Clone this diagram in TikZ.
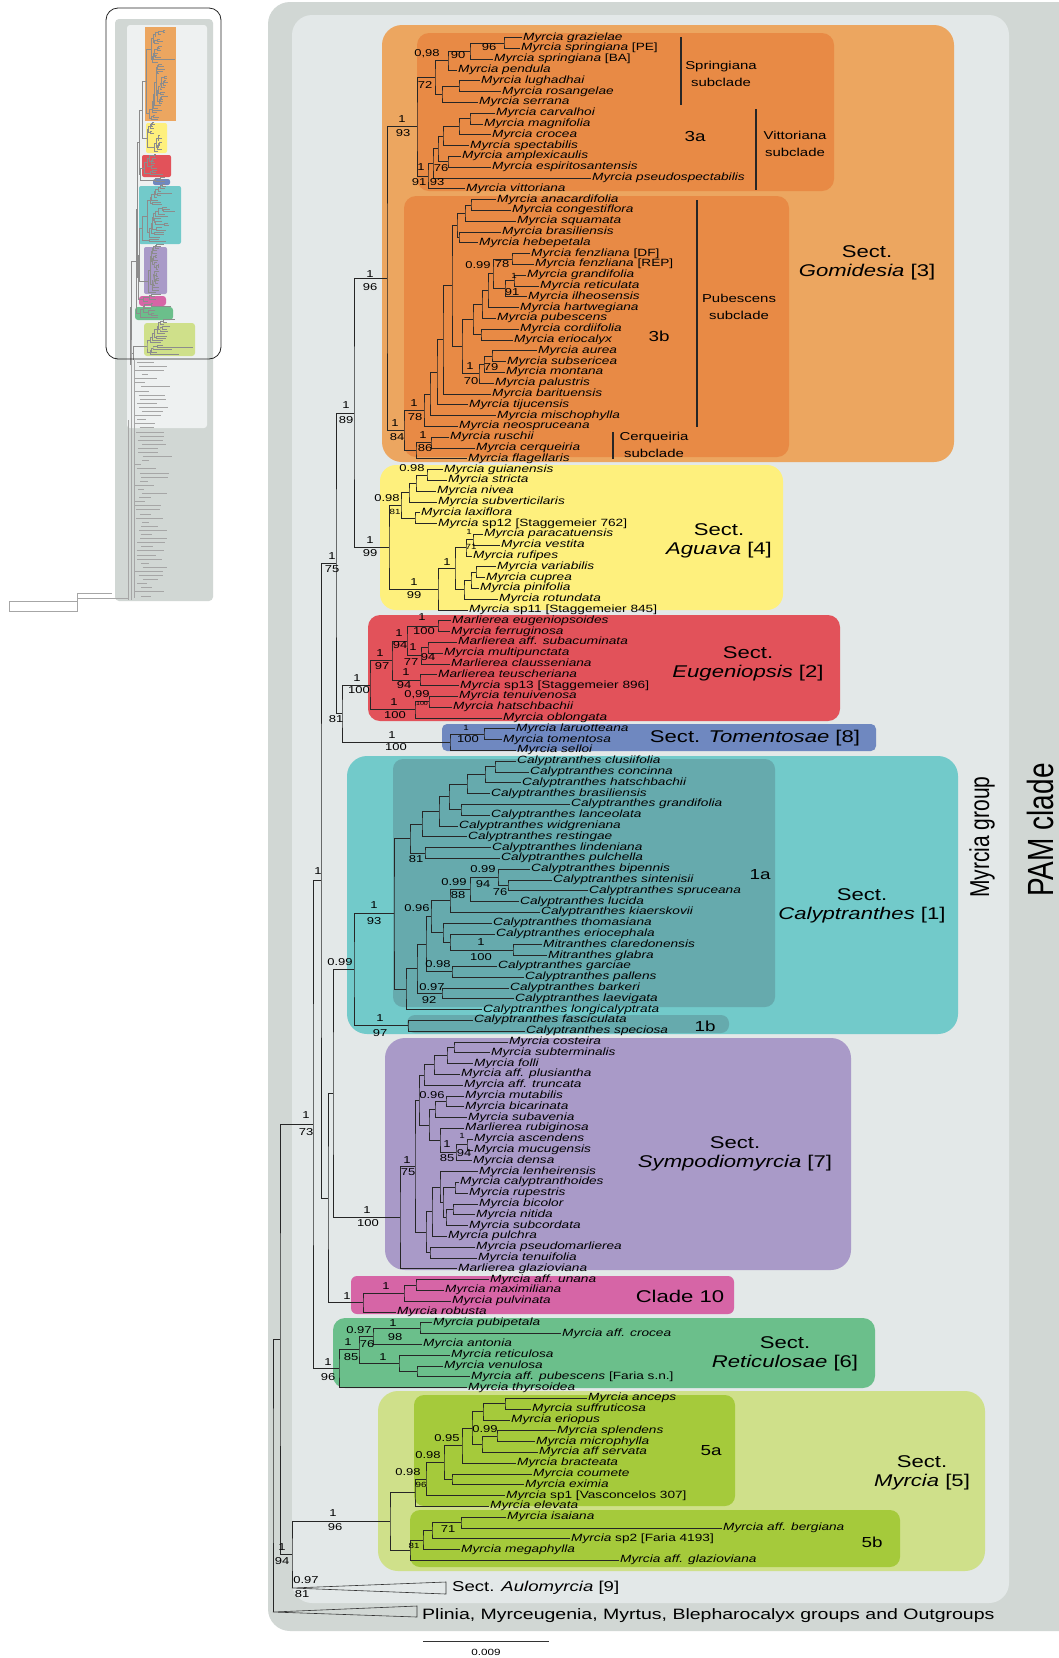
\documentclass[tikz,border=0pt]{standalone}
\usepackage{fontspec}
\usepackage{graphicx}
\newfontfamily\lsans[FakeStretch=1.3]{Liberation Sans}
\newfontfamily\lsansn{Liberation Sans}
\newif\ifshowtext \showtexttrue
\newcounter{lbl}
\definecolor{pamc}{HTML}{D1D7D4}
\definecolor{innc}{HTML}{E3E8E8}
\definecolor{gomo}{HTML}{ECA660}
\definecolor{gomi}{HTML}{E88A45}
\definecolor{agu}{HTML}{FEF07D}
\definecolor{eug}{HTML}{E2525A}
\definecolor{tom}{HTML}{6F88C0}
\definecolor{cal}{HTML}{72CACA}
\definecolor{cali}{HTML}{66AAAD}
\definecolor{sym}{HTML}{A99AC8}
\definecolor{cten}{HTML}{D665A6}
\definecolor{ret}{HTML}{6BBF8B}
\definecolor{myr}{HTML}{CFE08A}
\definecolor{myri}{HTML}{A5CA3B}
\tikzset{
 br/.style={draw=black!85, line width=0.8pt},
 tx/.style={anchor=west, inner sep=1pt, font=\lsans\fontsize{10.5}{11}\selectfont\itshape, text height=7.6pt, text depth=2.3pt},
 sup/.style={inner sep=0pt, font=\lsans\fontsize{10}{10}\selectfont},
 sups/.style={inner sep=0pt, font=\lsans\fontsize{7.5}{8}\selectfont},
 supt/.style={inner sep=0pt, font=\lsans\fontsize{5.5}{6}\selectfont},
 big/.style={align=center, inner sep=0pt, font=\lsans\fontsize{17}{18.5}\selectfont},
 subl/.style={align=center, inner sep=0pt, font=\lsans\fontsize{11.5}{16.5}\selectfont},
 cll/.style={inner sep=0pt, font=\lsans\fontsize{14.5}{15}\selectfont},
 bar/.style={draw=black!85, line width=2.6pt},
 thb/.style={draw=black!35, line width=0.3pt},
 tri/.style={draw=black!80, line width=0.6pt},
}
\newcommand\tp[3]{%
 \pgfmathsetmacro\tmpy{37.5+10.8*#1}%
 \expandafter\xdef\csname Yt#1\endcsname{\tmpy}%
 \coordinate (t#1) at ({#2-1},\tmpy);%
 \ifshowtext\node[tx] (n#1) at (t#1) {#3};\fi}
\newcommand\cl[4]{%
 \edef\ya{\csname Y#3\endcsname}\edef\yb{\csname Y#4\endcsname}%
 \pgfmathsetmacro\tmpy{(\ya+\yb)/2}%
 \expandafter\xdef\csname Y#1\endcsname{\tmpy}%
 \coordinate (#1) at (#2,\tmpy);%
 \draw[br] (#3) -| (#1) |- (#4);}
\newcommand\sv[3]{\stepcounter{lbl}\node[sup] (s\thelbl) at (#1,#2) {#3};}
\newcommand\svs[3]{\stepcounter{lbl}\node[sups] (s\thelbl) at (#1,#2) {#3};}
\newcommand\svt[3]{\stepcounter{lbl}\node[supt] (s\thelbl) at (#1,#2) {#3};}
\newcommand\tree{%
\tp{0}{523}{Myrcia grazielae}
\tp{1}{521}{Myrcia springiana \upshape[PE]}
\tp{2}{494}{Myrcia springiana \upshape[BA]}
\tp{3}{458}{Myrcia pendula}
\tp{4}{481}{Myrcia lughadhai}
\tp{5}{502}{Myrcia rosangelae}
\tp{6}{479}{Myrcia serrana}
\tp{7}{496}{Myrcia carvalhoi}
\tp{8}{484}{Myrcia magnifolia}
\tp{9}{492}{Myrcia crocea}
\tp{10}{470}{Myrcia spectabilis}
\tp{11}{462}{Myrcia amplexicaulis}
\tp{12}{492}{Myrcia espiritosantensis}
\tp{13}{592}{Myrcia pseudospectabilis}
\tp{14}{466}{Myrcia vittoriana}
\tp{15}{497}{Myrcia anacardifolia}
\tp{16}{512}{Myrcia congestiflora}
\tp{17}{517}{Myrcia squamata}
\tp{18}{502}{Myrcia brasiliensis}
\tp{19}{479}{Myrcia hebepetala}
\tp{20}{531}{Myrcia fenzliana \upshape[DF]}
\tp{21}{535}{Myrcia fenzliana \upshape[REP]}
\tp{22}{527}{Myrcia grandifolia}
\tp{23}{540}{Myrcia reticulata}
\tp{24}{528}{Myrcia ilheosensis}
\tp{25}{520}{Myrcia hartwegiana}
\tp{26}{497}{Myrcia pubescens}
\tp{27}{520}{Myrcia cordiifolia}
\tp{28}{514}{Myrcia eriocalyx}
\tp{29}{538}{Myrcia aurea}
\tp{30}{507}{Myrcia subsericea}
\tp{31}{506}{Myrcia montana}
\tp{32}{495}{Myrcia palustris}
\tp{33}{492}{Myrcia barituensis}
\tp{34}{469}{Myrcia tijucensis}
\tp{35}{497}{Myrcia mischophylla}
\tp{36}{459}{Myrcia neospruceana}
\tp{37}{450}{Myrcia ruschii}
\tp{38}{476}{Myrcia cerqueiria}
\tp{39}{468}{Myrcia flagellaris}
\tp{40}{444}{Myrcia guianensis}
\tp{41}{448}{Myrcia stricta}
\tp{42}{437}{Myrcia nivea}
\tp{43}{438}{Myrcia subverticilaris}
\tp{44}{421}{Myrcia laxiflora}
\tp{45}{438}{Myrcia \upshape sp12 [Staggemeier 762]}
\tp{46}{484}{Myrcia paracatuensis}
\tp{47}{501}{Myrcia vestita}
\tp{48}{473}{Myrcia rufipes}
\tp{49}{497}{Myrcia variabilis}
\tp{50}{486}{Myrcia cuprea}
\tp{51}{480}{Myrcia pinifolia}
\tp{52}{499}{Myrcia rotundata}
\tp{53}{469}{Myrcia \upshape sp11 [Staggemeier 845]}
\tp{54}{452}{Marlierea eugeniopsoides}
\tp{55}{451}{Myrcia ferruginosa}
\tp{56}{458}{Marlierea aff. subacuminata}
\tp{57}{444}{Myrcia multipunctata}
\tp{58}{451}{Marlierea clausseniana}
\tp{59}{438}{Marlierea teuscheriana}
\tp{60}{460}{Myrcia \upshape sp13 [Staggemeier 896]}
\tp{61}{459}{Myrcia tenuivenosa}
\tp{62}{453}{Myrcia hatschbachii}
\tp{63}{503}{Myrcia oblongata}
\tp{64}{516}{Myrcia laruotteana}
\tp{65}{503}{Myrcia tomentosa}
\tp{66}{517}{Myrcia selloi}
\tp{67}{517}{Calyptranthes clusiifolia}
\tp{68}{530}{Calyptranthes concinna}
\tp{69}{522}{Calyptranthes hatschbachii}
\tp{70}{491}{Calyptranthes brasiliensis}
\tp{71}{571}{Calyptranthes grandifolia}
\tp{72}{491}{Calyptranthes lanceolata}
\tp{73}{459}{Calyptranthes widgreniana}
\tp{74}{468}{Calyptranthes restingae}
\tp{75}{492}{Calyptranthes lindeniana}
\tp{76}{501}{Calyptranthes pulchella}
\tp{77}{531}{Calyptranthes bipennis}
\tp{78}{553}{Calyptranthes sintenisii}
\tp{79}{589}{Calyptranthes spruceana}
\tp{80}{520}{Calyptranthes lucida}
\tp{81}{541}{Calyptranthes kiaerskovii}
\tp{82}{493}{Calyptranthes thomasiana}
\tp{83}{496}{Calyptranthes eriocephala}
\tp{84}{543}{Mitranthes claredonensis}
\tp{85}{548}{Mitranthes glabra}
\tp{86}{498}{Calyptranthes garciae}
\tp{87}{525}{Calyptranthes pallens}
\tp{88}{510}{Calyptranthes barkeri}
\tp{89}{515}{Calyptranthes laevigata}
\tp{90}{483}{Calyptranthes longicalyptrata}
\tp{91}{474}{Calyptranthes fasciculata}
\tp{92}{526}{Calyptranthes speciosa}
\tp{93}{509}{Myrcia costeira}
\tp{94}{491}{Myrcia subterminalis}
\tp{95}{474}{Myrcia folli}
\tp{96}{461}{Myrcia aff. plusiantha}
\tp{97}{464}{Myrcia aff. truncata}
\tp{98}{465}{Myrcia mutabilis}
\tp{99}{465}{Myrcia bicarinata}
\tp{100}{468}{Myrcia subavenia}
\tp{101}{465}{Marlierea rubiginosa}
\tp{102}{474}{Myrcia ascendens}
\tp{103}{474}{Myrcia mucugensis}
\tp{104}{473}{Myrcia densa}
\tp{105}{479}{Myrcia lenheirensis}
\tp{106}{460}{Myrcia calyptranthoides}
\tp{107}{469}{Myrcia rupestris}
\tp{108}{479}{Myrcia bicolor}
\tp{109}{476}{Myrcia nitida}
\tp{110}{469}{Myrcia subcordata}
\tp{111}{448}{Myrcia pulchra}
\tp{112}{476}{Myrcia pseudomarlierea}
\tp{113}{478}{Myrcia tenuifolia}
\tp{114}{458}{Marlierea glazioviana}
\tp{115}{490}{Myrcia aff. unana}
\tp{116}{445}{Myrcia maximiliana}
\tp{117}{452}{Myrcia pulvinata}
\tp{118}{397}{Myrcia robusta}
\tp{119}{433}{Myrcia pubipetala}
\tp{120}{562}{Myrcia aff. crocea}
\tp{121}{423}{Myrcia antonia}
\tp{122}{451}{Myrcia reticulosa}
\tp{123}{444}{Myrcia venulosa}
\tp{124}{471}{Myrcia aff. pubescens \upshape[Faria s.n.]}
\tp{125}{468}{Myrcia thyrsoidea}
\tp{126}{588}{Myrcia anceps}
\tp{127}{532}{Myrcia suffruticosa}
\tp{128}{511}{Myrcia eriopus}
\tp{129}{557}{Myrcia splendens}
\tp{130}{536}{Myrcia microphylla}
\tp{131}{539}{Myrcia aff servata}
\tp{132}{517}{Myrcia bracteata}
\tp{133}{533}{Myrcia coumete}
\tp{134}{525}{Myrcia eximia}
\tp{135}{506}{Myrcia \upshape sp1 [Vasconcelos 307]}
\tp{136}{490}{Myrcia elevata}
\tp{137}{507}{Myrcia isaiana}
\tp{138}{723}{Myrcia aff. bergiana}
\tp{139}{571}{Myrcia \upshape sp2 [Faria 4193]}
\tp{140}{461}{Myrcia megaphylla}
\tp{141}{620}{Myrcia aff. glazioviana}
\cl{a1}{504}{t0}{t1}
\cl{a2}{470}{a1}{t2}
\cl{a3}{448}{a2}{t3}
\cl{a4}{459}{t4}{t5}
\cl{a5}{442}{a4}{t6}
\cl{a6}{435}{a3}{a5}
\cl{b1}{470}{t7}{t8}
\cl{b2}{459}{b1}{t9}
\cl{b3}{443}{b2}{t10}
\cl{b4}{448}{t11}{t12}
\cl{b5}{438}{b3}{b4}
\cl{b6}{433}{b5}{t13}
\cl{b7}{428}{b6}{t14}
\cl{c3a}{417}{a6}{b7}
\cl{d1}{471}{t15}{t16}
\cl{d2}{465}{d1}{t17}
\cl{d3}{459}{t18}{t19}
\cl{d4}{457}{d2}{d3}
\cl{e1}{512}{t20}{t21}
\cl{e2}{514}{t22}{t23}
\cl{e3}{505}{e2}{t24}
\cl{e4}{493}{e1}{e3}
\cl{e5}{488}{e4}{t25}
\cl{e6}{482}{e5}{t26}
\cl{e7}{481}{t27}{t28}
\cl{e8}{473}{e6}{e7}
\cl{f1}{492}{t29}{t30}
\cl{f2}{484}{f1}{t31}
\cl{f3}{479}{f2}{t32}
\cl{f4}{462}{e8}{f3}
\cl{f5}{452}{d4}{f4}
\cl{f6}{443}{f5}{t33}
\cl{f7}{437}{f6}{t34}
\cl{f8}{430}{f7}{t35}
\cl{f9}{424}{f8}{t36}
\cl{g1}{431}{t37}{t38}
\cl{g2}{416}{g1}{t39}
\cl{c3b}{404}{f9}{g2}
\cl{G}{387}{c3a}{c3b}
\cl{h1}{427}{t40}{t41}
\cl{h2}{416}{h1}{t42}
\cl{h3}{409}{h2}{t43}
\cl{h4}{415}{t44}{t45}
\cl{h5}{401}{h3}{h4}
\cl{i1}{473}{t46}{t47}
\cl{i2}{466}{i1}{t48}
\cl{i3}{476}{t49}{t50}
\cl{i4}{471}{i3}{t51}
\cl{i5}{464}{i4}{t52}
\cl{i6}{455}{i2}{i5}
\cl{i7}{438}{i6}{t53}
\cl{h6}{389}{h5}{i7}
\cl{GA}{354}{G}{h6}
\cl{j1}{438}{t54}{t55}
\cl{j2}{428}{t56}{t57}
\cl{j3}{421}{j2}{t58}
\cl{j4}{407}{j1}{j3}
\cl{j5}{420}{t59}{t60}
\cl{j6}{392}{j4}{j5}
\cl{j7}{429}{t61}{t62}
\cl{j8}{415}{j7}{t63}
\cl{j9}{370}{j6}{j8}
\cl{k1}{484}{t64}{t65}
\cl{k2}{450}{k1}{t66}
\cl{ET}{342}{j9}{k2}
\cl{X1}{336}{GA}{ET}
\cl{l1}{495}{t67}{t68}
\cl{l2}{485}{l1}{t69}
\cl{l3}{467}{l2}{t70}
\cl{l4}{461}{t71}{t72}
\cl{l5}{449}{l3}{l4}
\cl{l6}{439}{l5}{t73}
\cl{l7}{422}{l6}{t74}
\cl{l8}{425}{t75}{t76}
\cl{l9}{410}{l7}{l8}
\cl{m1}{508}{t78}{t79}
\cl{m2}{498}{t77}{m1}
\cl{m3}{470}{m2}{t80}
\cl{m4}{450}{m3}{t81}
\cl{m6}{513}{t84}{t85}
\cl{m7}{450}{t83}{m6}
\cl{m8}{443}{t82}{m7}
\cl{m9}{431}{m4}{m8}
\cl{m10}{452}{t86}{t87}
\cl{m11}{426}{m9}{m10}
\cl{m12}{442}{t88}{t89}
\cl{m13}{417}{m11}{m12}
\cl{m14}{406}{m13}{t90}
\cl{c1a}{394}{l9}{m14}
\cl{c1b}{408}{t91}{t92}
\cl{C}{354}{c1a}{c1b}
\cl{n1}{454}{t93}{t94}
\cl{n2}{447}{n1}{t95}
\cl{n3}{434}{n2}{t96}
\cl{n4}{424}{n3}{t97}
\cl{n5}{446}{t98}{t99}
\cl{n6}{435}{n5}{t100}
\cl{n7}{467}{t102}{t103}
\cl{n8}{456}{n7}{t104}
\cl{n9}{440}{t101}{n8}
\cl{n10}{429}{n6}{n9}
\cl{n11}{419}{n4}{n10}
\cl{o1}{455}{t106}{t107}
\cl{o2}{453}{t108}{t109}
\cl{o3}{446}{o2}{t110}
\cl{o4}{443}{o1}{o3}
\cl{o5}{440}{t105}{o4}
\cl{o6}{432}{o5}{t111}
\cl{o7}{430}{t112}{t113}
\cl{o8}{426}{o6}{o7}
\cl{P75}{415}{n11}{o8}
\cl{Q}{400}{P75}{t114}
\cl{p1}{416}{t115}{t116}
\cl{p2}{404}{p1}{t117}
\cl{p3}{363}{p2}{t118}
\cl{K1}{333}{C}{Q}
\cl{K}{328}{K1}{p3}
\cl{X2}{321}{X1}{K}
\cl{q1}{420}{t119}{t120}
\cl{q2}{373}{q1}{t121}
\cl{q3}{417}{t123}{t124}
\cl{q4}{399}{t122}{q3}
\cl{q5}{359}{q2}{q4}
\cl{q6}{339}{q5}{t125}
\cl{N73}{313}{X2}{q6}
\cl{r1}{505}{t126}{t127}
\cl{r2}{483}{r1}{t128}
\cl{r3}{497}{t129}{t130}
\cl{r4}{482}{r3}{t131}
\cl{r5}{472}{r2}{r4}
\cl{r6}{462}{r5}{t132}
\cl{r7}{452}{t133}{t134}
\cl{r8}{444}{r6}{r7}
\cl{r9}{426}{r8}{t135}
\cl{r10}{415}{r9}{t136}
\cl{s1}{461}{t137}{t138}
\cl{s2}{432}{s1}{t139}
\cl{s3}{423}{s2}{t140}
\cl{s4}{410}{s3}{t141}
\cl{r11}{390}{r10}{s4}
\coordinate (aul) at (292,1588); \expandafter\gdef\csname Yaul\endcsname{1588}
\coordinate (og) at (273,1612); \expandafter\gdef\csname Yog\endcsname{1612}
\cl{N94}{292}{r11}{aul}
\cl{NA}{280}{N73}{N94}
\cl{R}{273}{NA}{og}
}
\begin{document}
\begin{tikzpicture}[x=1pt,y=-1pt]
\useasboundingbox (0,0) rectangle (1059,1658);
\fill[white] (0,0) rectangle (1059,1658);
% panels
\begin{scope}
\clip (0,0) rectangle (1059,1658);
\fill[pamc, rounded corners=22] (268,2) rectangle (1100,1631);
\end{scope}
\fill[innc, rounded corners=20] (292,15) rectangle (1009,1603);
% clade boxes
\fill[gomo, rounded corners=20] (382,25) rectangle (954,462);
\fill[gomi, rounded corners=12] (417,33) rectangle (834,191);
\fill[gomi, rounded corners=12] (404,196) rectangle (789,457);
\fill[agu, rounded corners=16] (380,465) rectangle (783,610);
\fill[eug, rounded corners=12] (368,615) rectangle (840,721);
\fill[tom, rounded corners=5] (442,724) rectangle (876,751);
\fill[cal, rounded corners=20] (347,756) rectangle (958,1034);
\fill[cali, rounded corners=10] (393,759) rectangle (775,1007);
\fill[cali, rounded corners=8] (407,1015) rectangle (729,1033);
\fill[sym, rounded corners=20] (385,1038) rectangle (851,1270);
\fill[cten, rounded corners=6] (351,1276) rectangle (734,1314);
\fill[ret, rounded corners=12] (333,1318) rectangle (875,1388);
\fill[myr, rounded corners=20] (378,1391) rectangle (985,1571);
\fill[myri, rounded corners=10] (414,1395) rectangle (735,1506);
\fill[myri, rounded corners=10] (410,1510) rectangle (900,1567);
% subclade bars
\draw[bar] (681,37) -- (681,105);
\draw[bar] (756,109) -- (756,190);
\draw[bar] (697,200) -- (697,427);
\draw[bar] (613,432) -- (613,459);
% tree
\tree
% triangles
\draw[tri] (aul) -- (446,1582) -- (446,1594) -- cycle;
\draw[tri] (og) -- (417,1606) -- (417,1617) -- cycle;
\node[anchor=west, inner sep=0pt, font=\lsans\fontsize{14.3}{15}\selectfont] (aultx) at (452,1588) {Sect. \textit{Aulomyrcia} [9]};
\node[anchor=west, inner sep=0pt, font=\lsans\fontsize{15}{16}\selectfont] (ogtx) at (422,1616) {Plinia, Myrceugenia, Myrtus, Blepharocalyx groups and Outgroups};
% support values
\sv{489}{47}{96} \sv{427}{54}{0,98} \sv{458}{55}{90} \sv{425}{85}{72} \sv{402}{119}{1} \sv{403}{133}{93}
\sv{421}{167}{1} \sv{441}{168}{76} \sv{419}{182}{91} \sv{437}{182}{93}
\sv{478}{265}{0.99} \sv{502}{264}{78} \svs{514}{276}{1} \sv{512}{292}{91}
\sv{491}{367}{79} \sv{470}{366}{1} \sv{471}{381}{70} \sv{414}{403}{1} \sv{415}{417}{78} \sv{395}{423}{1} \sv{397}{437}{84} \sv{423}{435}{1} \sv{425}{448}{86}
\sv{370}{274}{1} \sv{370}{287}{96} \sv{346}{405}{1} \sv{346}{420}{89}
\sv{412}{468}{0.98} \sv{387}{498}{0.98} \svs{395}{512}{81} \svs{469}{532}{1} \svs{471}{547}{71} \sv{447}{562}{1} \sv{414}{582}{1} \sv{414}{595}{99} \sv{370}{540}{1} \sv{370}{553}{99} \sv{332}{556}{1} \sv{332}{569}{75}
\sv{422}{617}{1} \sv{424}{631}{100} \sv{399}{633}{1} \sv{400}{645}{94} \sv{413}{647}{1} \sv{428}{657}{94} \sv{411}{662}{77} \sv{380}{653}{1} \sv{382}{666}{97} \sv{406}{672}{1} \sv{404}{685}{94} \sv{417}{695}{0,99} \svt{422}{704}{100} \sv{394}{702}{1} \sv{395}{715}{100} \sv{357}{678}{1} \sv{359}{690}{100} \sv{336}{719}{81}
\sv{392}{735}{1} \sv{396}{747}{100} \svs{466}{728}{1} \sv{468}{739}{100}
\sv{416}{859}{81} \sv{483}{869}{0.99} \sv{454}{882}{0.99} \sv{483}{884}{94} \sv{500}{892}{76} \sv{318}{871}{1} \sv{458}{895}{88} \sv{374}{905}{1} \sv{374}{921}{93} \sv{417}{908}{0.96} \sv{481}{942}{1} \sv{481}{957}{100} \sv{340}{962}{0.99} \sv{438}{964}{0.98} \sv{432}{987}{0.97} \sv{429}{1000}{92} \sv{380}{1018}{1} \sv{380}{1033}{97}
\sv{432}{1095}{0.96} \svs{462}{1136}{1} \sv{447}{1144}{1} \sv{447}{1158}{85} \sv{464}{1153}{94} \sv{407}{1160}{1} \sv{408}{1172}{75} \sv{306}{1115}{1} \sv{306}{1132}{73} \sv{367}{1210}{1} \sv{368}{1223}{100}
\sv{386}{1286}{1} \sv{347}{1296}{1}
\sv{393}{1323}{1} \sv{359}{1330}{0.97} \sv{395}{1337}{98} \sv{348}{1342}{1} \sv{367}{1344}{76} \sv{351}{1357}{85} \sv{383}{1357}{1} \sv{328}{1362}{1} \sv{328}{1377}{96}
\sv{485}{1429}{0.99} \sv{447}{1438}{0.95} \sv{428}{1455}{0.98} \sv{408}{1472}{0.98} \svs{421}{1485}{96} \sv{333}{1513}{1} \sv{335}{1527}{96} \sv{448}{1529}{71} \svs{414}{1546}{81} \sv{282}{1547}{1} \sv{282}{1561}{94} \sv{306}{1580}{0.97} \sv{302}{1594}{81}
% clade labels
\node[subl] (lspr) at (721,74) {Springiana\\subclade};
\node[subl] (lvit) at (795,144) {Vittoriana\\subclade};
\node[subl] (lpub) at (739,307) {Pubescens\\subclade};
\node[subl] (lcer) at (654,445) {Cerqueiria\\subclade};
\node[cll] (l3a) at (695,137) {3a};
\node[cll] (l3b) at (659,336) {3b};
\node[cll] (l1a) at (760,875) {1a};
\node[cll] (l1b) at (705,1026) {1b};
\node[cll] (l5a) at (711,1451) {5a};
\node[cll] (l5b) at (872,1542) {5b};
\node[big] (lgom) at (867,263) {Sect.\\\textit{Gomidesia} [3]};
\node[big] (lagu) at (719,541) {Sect.\\\textit{Aguava} [4]};
\node[big] (leug) at (748,664) {Sect.\\\textit{Eugeniopsis} [2]};
\node[big] (ltom) at (755,738) {Sect. \textit{Tomentosae} [8]};
\node[big] (lcal) at (862,906) {Sect.\\\textit{Calyptranthes} [1]};
\node[big] (lsym) at (735,1154) {Sect.\\\textit{Sympodiomyrcia} [7]};
\node[big] (lc10) at (680,1296) {Clade 10};
\node[big] (lret) at (785,1354) {Sect.\\\textit{Reticulosae} [6]};
\node[big] (lmyr) at (922,1473) {Sect.\\\textit{Myrcia} [5]};
\node[rotate=90, inner sep=0pt, font=\lsansn\fontsize{21}{21}\selectfont] (lmg) at (982,837) {\scalebox{1}[1.3]{Myrcia group}};
\node[rotate=90, inner sep=0pt, font=\lsansn\fontsize{28}{28}\selectfont] (lpam) at (1040,830) {\scalebox{1}[1.3]{PAM clade}};
% scale bar
\coordinate (sb1) at (423,1641);
\coordinate (sb2) at (549,1641);
\draw[black!80, line width=0.8pt] (sb1) -- (sb2);
\node[inner sep=0pt, font=\lsans\fontsize{9}{9}\selectfont] (sbl) at (486,1652) {0.009};
% thumbnail
\fill[pamc, rounded corners=4] (115,19) rectangle (213,601);
\fill[innc!60!white, rounded corners=3] (127,25) rectangle (207,428);
\fill[gomo] (145,27) rectangle (176,121);
\fill[agu, rounded corners=2] (146,123) rectangle (167,153);
\fill[eug, rounded corners=2] (142,155) rectangle (171,177);
\fill[tom, rounded corners=2] (153,179) rectangle (170,185);
\fill[cal, rounded corners=2] (139,186) rectangle (181,244);
\fill[sym, rounded corners=2] (144,247) rectangle (167,294);
\fill[cten, rounded corners=3] (139,296) rectangle (166,306);
\fill[ret, rounded corners=3] (135,307) rectangle (173,320);
\fill[myr, rounded corners=3] (144,323) rectangle (195,356);
\begin{scope}[shift={(92.4,21.7)}, xscale=0.14, yscale=0.213, br/.style={draw=black!45, line width=0.25pt}]
\showtextfalse
\tree
\end{scope}
\pgfmathsetseed{12}
\foreach \k in {0,...,57}{
 \pgfmathsetmacro\yy{362+4.1*\k}
 \pgfmathsetmacro\xa{134+9*rnd}
 \pgfmathsetmacro\xb{\xa+6+24*rnd}
 \draw[thb] (\xa,\yy) -- (\xb,\yy);
}
\draw[thb] (131,340) -- (131,600);
\draw[thb] (134,360) -- (134,598);
\draw[thb] (128,420) -- (128,600);
\draw[thb] (9,601) rectangle (77,611);
\draw[thb] (77,604) -- (77,593) -- (112,593);
\draw[thb] (77,598) -- (128,598);
\draw[black!85, line width=0.8pt, rounded corners=12] (106,8) rectangle (221,359);
\end{tikzpicture}
\end{document}
